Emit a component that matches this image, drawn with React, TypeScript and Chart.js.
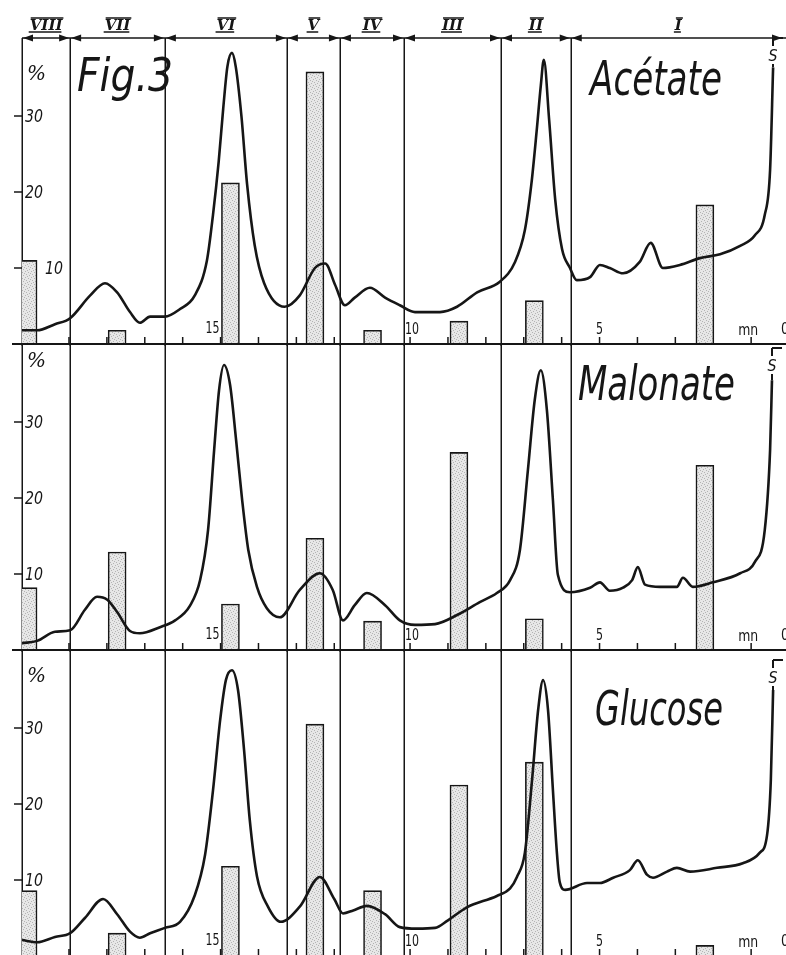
import React, { useEffect, useRef } from "react";
import { Chart, registerables } from "chart.js";

Chart.register(...registerables);

// ---------- data (minutes, % ) ----------
const fractionLabels = ["VIII", "VII", "VI", "V", "IV", "III", "II", "I"];
const fractionBounds = [20.24, 18.97, 16.47, 13.25, 11.85, 10.16, 7.6, 5.76, 0.08];
const minuteTicks = [1, 2, 3, 4, 5, 6, 7, 8, 9, 10, 11, 12, 13, 14, 15, 16, 17, 18, 19, 20];
const axisLabelValues = [15, 10, 5, 1, 0];
const axisLabelTexts = ["15", "10", "5", "mn", "0"];
const yTickValues = [10, 20, 30];
const yTickTexts = ["10", "20", "30"];

const barTimes = [20.08, 17.73, 14.74, 12.51, 10.99, 8.71, 6.72, 2.22];
const acetateBars = [11, 1.8, 21.2, 35.8, 1.8, 3.0, 5.7, 18.3];
const malonateBars = [8.2, 12.9, 6.05, 14.7, 3.8, 26, 4.1, 24.3];
const glucoseBars = [8.6, 3.0, 11.8, 30.5, 8.6, 22.5, 25.5, 1.4];

const acetateTimes = [20.24, 19.84, 19.37, 18.97, 18.44, 18.05, 17.73, 17.39, 17.13, 16.86, 16.47, 16.07, 15.68, 15.36, 15.2, 15.05, 14.93, 14.82, 14.7, 14.6, 14.45, 14.3, 14.1, 13.85, 13.31, 12.91, 12.51, 12.24, 11.98, 11.72, 11.46, 11.06, 10.66, 10.27, 9.87, 9.21, 8.76, 8.23, 7.63, 7.23, 6.97, 6.8, 6.66, 6.55, 6.47, 6.33, 6.17, 5.99, 5.78, 5.6, 5.25, 4.99, 4.73, 4.38, 3.94, 3.65, 3.33, 2.88, 2.35, 1.82, 1.29, 0.9, 0.64, 0.5, 0.42];
const acetateValues = [1.8, 1.8, 2.6, 3.4, 6.4, 8, 6.8, 4.2, 2.8, 3.6, 3.6, 4.6, 6.4, 11, 17, 24, 31, 36.5, 38.3, 36.5, 30, 21, 13, 8, 4.9, 6.4, 10, 10.6, 7.8, 5.1, 6.1, 7.4, 6.1, 5.1, 4.2, 4.2, 4.9, 6.8, 8.2, 10.8, 15, 21, 28, 34, 37.4, 29.5, 19, 12.5, 10, 8.4, 8.8, 10.4, 10, 9.3, 10.8, 13.3, 10, 10.4, 11.3, 11.8, 12.9, 14.3, 17, 22.9, 36.4];

const malonateTimes = [20.24, 19.84, 19.37, 18.97, 18.58, 18.26, 17.99, 17.73, 17.39, 17.13, 16.6, 16.2, 15.81, 15.54, 15.33, 15.17, 15.04, 14.91, 14.75, 14.59, 14.43, 14.27, 14.04, 13.78, 13.44, 12.91, 12.38, 12.04, 11.77, 11.46, 11.14, 10.66, 10.27, 9.87, 9.34, 8.76, 8.16, 7.71, 7.36, 7.1, 6.89, 6.71, 6.55, 6.39, 6.23, 6.1, 5.78, 5.25, 4.99, 4.73, 4.38, 4.14, 3.99, 3.8, 3.4, 2.96, 2.8, 2.54, 2.01, 1.29, 0.9, 0.64, 0.5, 0.45];
const malonateValues = [0.9, 1.2, 2.4, 2.6, 5.3, 7, 6.6, 5, 2.5, 2.2, 3, 3.9, 5.8, 9.2, 15.8, 26.3, 34.2, 37.5, 34.9, 27.6, 19.7, 13.2, 8.3, 5.5, 4.3, 7.9, 10.1, 7.9, 3.9, 5.9, 7.5, 5.9, 3.9, 3.3, 3.4, 4.6, 6.3, 7.5, 9.2, 13.2, 23.7, 32.9, 36.8, 31.6, 19.7, 9.9, 7.6, 8.2, 8.9, 7.8, 8.2, 9.2, 10.9, 8.6, 8.3, 8.3, 9.5, 8.3, 8.9, 10.1, 11.6, 15.8, 26.3, 35.5];

const glucoseTimes = [20.24, 19.84, 19.37, 18.97, 18.58, 18.1, 17.73, 17.39, 17.13, 16.86, 16.47, 16.07, 15.68, 15.41, 15.2, 15.01, 14.86, 14.7, 14.54, 14.38, 14.23, 14.04, 13.75, 13.41, 12.91, 12.38, 12.0, 11.77, 11.5, 11.14, 10.66, 10.27, 9.82, 9.34, 9.0, 8.5, 7.71, 7.36, 7.18, 6.97, 6.78, 6.62, 6.49, 6.36, 6.23, 6.13, 6.05, 5.91, 5.33, 4.99, 4.64, 4.2, 3.99, 3.75, 3.59, 3.22, 2.96, 2.61, 1.9, 1.22, 0.77, 0.58, 0.48, 0.42];
const glucoseValues = [2.1, 1.8, 2.5, 3.0, 5.0, 7.5, 5.5, 3.2, 2.4, 3.0, 3.7, 4.5, 8.0, 13.3, 21.8, 31.1, 36.3, 37.6, 35, 27.1, 17.9, 10.5, 6.5, 4.5, 6.5, 10.4, 7.5, 5.6, 6.0, 6.6, 5.5, 3.8, 3.6, 3.7, 4.7, 6.4, 7.9, 8.9, 10.4, 13.6, 23.2, 32.4, 36.3, 32.4, 21.8, 13.9, 9.7, 8.7, 9.6, 9.6, 10.3, 11.3, 12.6, 10.7, 10.3, 11.1, 11.6, 11.1, 11.6, 12.2, 13.6, 15.9, 23.2, 35];

// ---------- styling / layout ----------
const INK = "#161616";
const W = 786;
const CH = 346;

type PanelCfg = {
  name: string;
  times: number[];
  values: number[];
  bars: number[];
  canvasTop: number;
  header: boolean;
  nameX: number;
  nameDy: number;
  nameW: number;
  pctDy: number;
  sDy: number;
  tenDx: number;
};

const panels: PanelCfg[] = [
  { name: "Acétate", times: acetateTimes, values: acetateValues, bars: acetateBars, canvasTop: 0, header: true, nameX: 590, nameDy: 55, nameW: 132, pctDy: 35, sDy: -2, tenDx: 20 },
  { name: "Malonate", times: malonateTimes, values: malonateValues, bars: malonateBars, canvasTop: 306, header: false, nameX: 578, nameDy: 54, nameW: 157, pctDy: 16, sDy: 2, tenDx: 0 },
  { name: "Glucose", times: glucoseTimes, values: glucoseValues, bars: glucoseBars, canvasTop: 612, header: false, nameX: 595, nameDy: 73, nameW: 128, pctDy: 25, sDy: 8, tenDx: 0 },
];

function makePattern(ctx: CanvasRenderingContext2D) {
  const c = document.createElement("canvas");
  c.width = 6;
  c.height = 6;
  const g = c.getContext("2d")!;
  g.fillStyle = "#e7e7e7";
  g.fillRect(0, 0, 6, 6);
  g.fillStyle = "#b4b4b4";
  [[1, 1], [4, 2], [2, 4], [5, 5], [0, 3], [3, 0]].forEach(([a, b]) => g.fillRect(a, b, 1, 1));
  return ctx.createPattern(c, "repeat") as CanvasPattern;
}

function line(ctx: CanvasRenderingContext2D, x1: number, y1: number, x2: number, y2: number) {
  ctx.beginPath();
  ctx.moveTo(x1, y1);
  ctx.lineTo(x2, y2);
  ctx.stroke();
}

function makeDecor(p: PanelCfg) {
  return {
    id: "decor",
    beforeDatasetsDraw(chart: any) {
      const { ctx, chartArea: ca, scales } = chart;
      const xs = scales.x;
      const ys = scales.y;
      ctx.save();
      ctx.strokeStyle = INK;
      ctx.lineWidth = 1.5;
      fractionBounds.slice(0, -1).forEach((t) => {
        const px = Math.round(xs.getPixelForValue(t)) + 0.25;
        line(ctx, px, ca.top - 2, px, ca.bottom + 2);
      });
      minuteTicks.forEach((m) => {
        const px = xs.getPixelForValue(m);
        line(ctx, px, ca.bottom, px, ca.bottom - 7);
      });
      yTickValues.forEach((v) => {
        const py = ys.getPixelForValue(v);
        line(ctx, ca.left - 8, py, ca.left, py);
      });
      ctx.restore();
    },
    afterDatasetsDraw(chart: any) {
      const { ctx, chartArea: ca, scales } = chart;
      const xs = scales.x;
      const ys = scales.y;
      ctx.save();
      ctx.strokeStyle = INK;
      ctx.fillStyle = INK;
      ctx.lineWidth = 2;
      line(ctx, 12, ca.bottom, chart.width, ca.bottom);

      ctx.font = 'italic 18px "DejaVu Sans"';
      ctx.textAlign = "left";
      ctx.textBaseline = "middle";
      yTickValues.forEach((v, i) => {
        const dx = v === 10 ? p.tenDx : 0;
        ctx.fillText(yTickTexts[i], ca.left + 3 + dx, ys.getPixelForValue(v) + 1, 18);
      });
      ctx.font = 'italic 20px "DejaVu Serif"';
      ctx.fillText("%", ca.left + 5, ca.top + p.pctDy);

      ctx.textBaseline = "alphabetic";
      axisLabelValues.forEach((v, i) => {
        const px = xs.getPixelForValue(v);
        const txt = axisLabelTexts[i];
        if (txt === "mn") {
          ctx.font = '15px "DejaVu Sans"';
          ctx.textAlign = "center";
          ctx.fillText(txt, px - 3, ca.bottom - 9, 20);
        } else if (txt === "15") {
          ctx.font = '16px "DejaVu Sans"';
          ctx.textAlign = "right";
          ctx.fillText(txt, px - 1, ca.bottom - 11, 14);
        } else if (txt === "0") {
          ctx.font = '16px "DejaVu Sans"';
          ctx.textAlign = "left";
          ctx.fillText(txt, px - 8, ca.bottom - 10, 8);
        } else {
          ctx.font = '16px "DejaVu Sans"';
          ctx.textAlign = "center";
          ctx.fillText(txt, px + (txt === "10" ? 2 : 0), ca.bottom - 10, txt.length * 7);
        }
      });

      ctx.textAlign = "left";
      ctx.font = 'italic 48px "DejaVu Sans"';
      ctx.fillText(p.name, p.nameX, ca.top + p.nameDy, p.nameW);

      const xS = Math.round(xs.getPixelForValue(p.times[p.times.length - 1]));
      const yCurveTop = ys.getPixelForValue(p.values[p.values.length - 1]);
      const sy = ca.top + p.sDy;
      ctx.lineWidth = 2;
      line(ctx, xS, sy, xS + 10, sy);
      line(ctx, xS, sy, xS, sy + 8);
      ctx.font = 'italic 15px "DejaVu Sans"';
      ctx.textAlign = "center";
      ctx.fillText("S", xS, sy + 23, 9);
      line(ctx, xS, sy + 26, xS, yCurveTop);

      if (p.header) {
        const yH = ca.top - 2;
        ctx.lineWidth = 1.5;
        line(ctx, ca.left, yH, chart.width, yH);
        const px = fractionBounds.map((t) => xs.getPixelForValue(t));
        px.forEach((b, i) => {
          const bb = i === px.length - 1 ? chart.width - 3 : b;
          if (i < px.length - 1) {
            ctx.beginPath();
            ctx.moveTo(bb + 1, yH);
            ctx.lineTo(bb + 11, yH - 3.5);
            ctx.lineTo(bb + 11, yH + 3.5);
            ctx.closePath();
            ctx.fill();
          }
          if (i > 0) {
            ctx.beginPath();
            ctx.moveTo(bb - 1, yH);
            ctx.lineTo(bb - 11, yH - 3.5);
            ctx.lineTo(bb - 11, yH + 3.5);
            ctx.closePath();
            ctx.fill();
          }
        });
        ctx.font = 'italic bold 15px "DejaVu Serif"';
        ctx.textAlign = "center";
        ctx.lineWidth = 1.5;
        fractionLabels.forEach((lab, i) => {
          const right = i === px.length - 2 ? chart.width : px[i + 1];
          const cx = (px[i] + right) / 2;
          ctx.fillText(lab, cx, 30);
          const w = ctx.measureText(lab).width;
          line(ctx, cx - w / 2 + 1, 18, cx + w / 2 + 1, 18);
          line(ctx, cx - w / 2 - 1, 32, cx + w / 2 - 1, 32);
        });
        ctx.font = 'italic 46px "DejaVu Sans"';
        ctx.textAlign = "left";
        ctx.fillText("Fig.3", 77, 91, 96);
      }
      ctx.restore();
    },
  };
}

function Panel({ p }: { p: PanelCfg }) {
  const ref = useRef<HTMLCanvasElement>(null);
  useEffect(() => {
    const canvas = ref.current!;
    const ctx = canvas.getContext("2d")!;
    const pattern = makePattern(ctx);
    const chart = new Chart(ctx, {
      type: "bar",
      data: {
        datasets: [
          {
            type: "line",
            data: p.times.map((t, i) => ({ x: t, y: p.values[i] })),
            borderColor: INK,
            borderWidth: 2.6,
            pointRadius: 0,
            cubicInterpolationMode: "monotone",
            fill: false,
            order: 0,
          } as any,
          {
            type: "bar",
            data: barTimes.map((t, i) => ({ x: t, y: p.bars[i] })),
            backgroundColor: pattern,
            borderColor: INK,
            borderWidth: 1.6,
            barThickness: 18,
            order: 1,
            clip: { left: 0, top: false, right: false, bottom: false },
          } as any,
        ],
      },
      options: {
        animation: false,
        responsive: false,
        maintainAspectRatio: false,
        events: [],
        layout: { padding: { top: 40, bottom: 2, left: 22, right: 0 } },
        scales: {
          x: { type: "linear", reverse: true, min: 0.08, max: 20.24, offset: false, display: false },
          y: { min: 0, max: 40, display: false },
        },
        plugins: { legend: { display: false }, tooltip: { enabled: false } },
      },
      plugins: [makeDecor(p)],
    });
    return () => chart.destroy();
  }, [p]);
  return (
    <canvas
      ref={ref}
      width={W}
      height={CH}
      style={{ position: "absolute", left: 0, top: p.canvasTop, width: W, height: CH }}
    />
  );
}

export default function App() {
  return (
    <div style={{ position: "fixed", left: 0, top: 0, width: W, height: 955, overflow: "hidden", background: "#fff" }}>
      {panels.map((p) => (
        <Panel key={p.name} p={p} />
      ))}
    </div>
  );
}
